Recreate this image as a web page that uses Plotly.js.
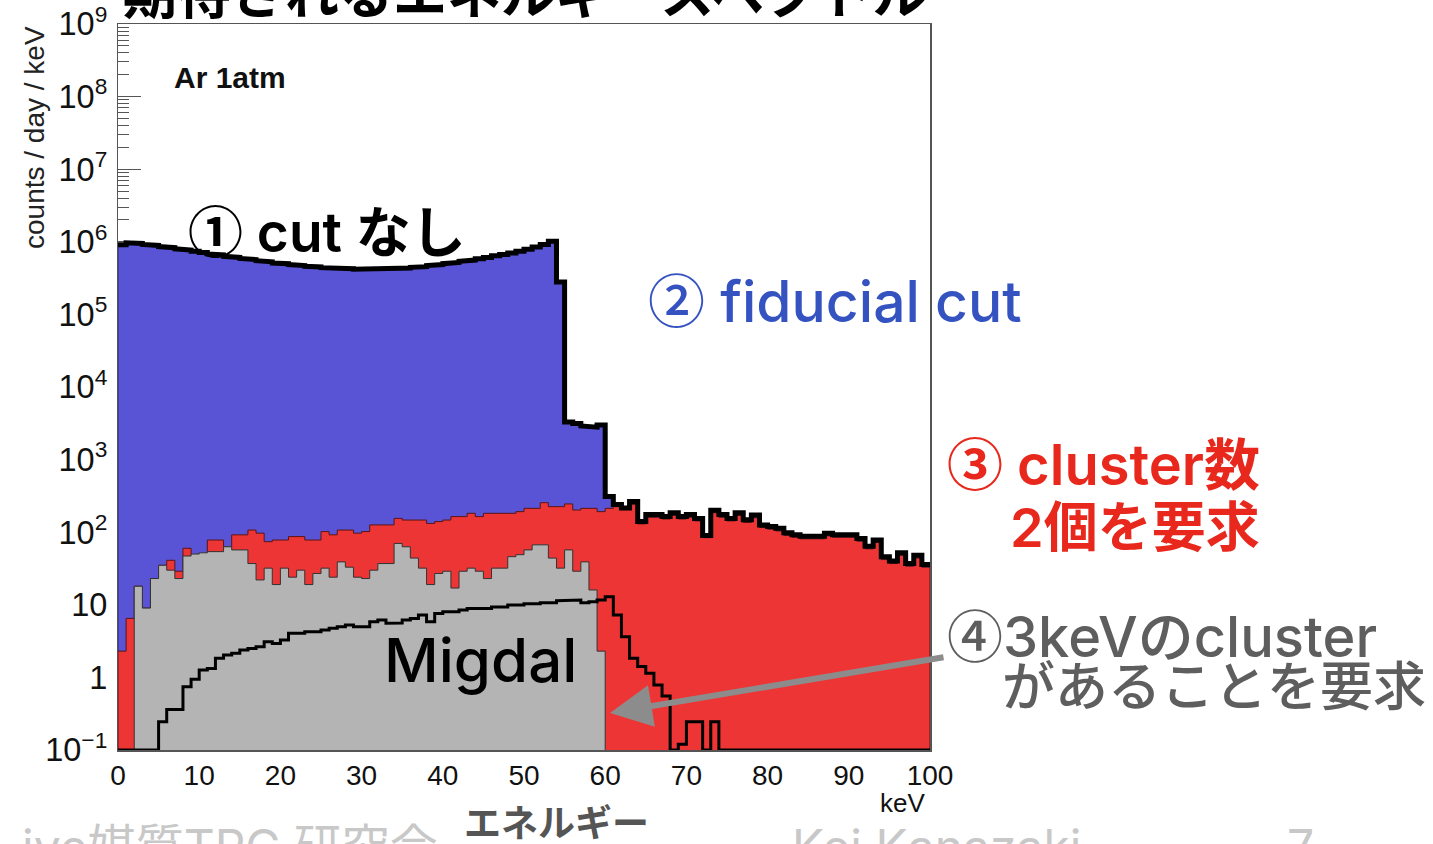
<!DOCTYPE html>
<html><head><meta charset="utf-8">
<script src="https://cdn.plot.ly/plotly-3.0.1.min.js"></script>
<style>html,body{margin:0;padding:0;background:#fff;} #chart{width:1433px;height:844px;}</style>
</head><body><div id="chart"></div>
<script>
// 1 keV bins from 0 to 100 keV
const binWidth = 1;
const nBins = 100;

// ① no cut (black thick outline)
const noCut = [
 9.1e5, 9.7e5, 9.5e5, 9.2e5, 8.9e5, 8.6e5, 8.3e5, 8.0e5, 7.7e5, 7.4e5,
 7.1e5, 6.8e5, 6.6e5, 6.3e5, 6.1e5, 5.9e5, 5.7e5, 5.5e5, 5.3e5, 5.1e5,
 5.0e5, 4.85e5, 4.7e5, 4.6e5, 4.5e5, 4.4e5, 4.35e5, 4.3e5, 4.25e5, 4.2e5,
 4.2e5, 4.2e5, 4.2e5, 4.25e5, 4.3e5, 4.35e5, 4.45e5, 4.55e5, 4.7e5, 4.85e5,
 5.0e5, 5.2e5, 5.4e5, 5.6e5, 5.85e5, 6.1e5, 6.4e5, 6.7e5, 7.0e5, 7.4e5,
 7.9e5, 8.5e5, 9.2e5, 1.02e6, 2.8e5, 3.3e3, 3.15e3, 2.9e3, 2.8e3, 3.0e3,
 310, 240, 215, 265, 140, 175, 175, 165, 185, 165,
 175, 155, 90, 200, 175, 155, 185, 148, 172, 126,
 120, 113, 98, 92, 88, 88, 88, 97, 92, 92,
 92, 82, 64, 78, 46, 40, 52, 37, 48, 36
];

// ② fiducial cut (blue)
const fiducial = [
 9.0e5, 9.6e5, 9.4e5, 9.1e5, 8.8e5, 8.5e5, 8.2e5, 7.9e5, 7.6e5, 7.3e5,
 7.0e5, 6.7e5, 6.5e5, 6.2e5, 6.0e5, 5.8e5, 5.6e5, 5.4e5, 5.2e5, 5.0e5,
 4.9e5, 4.8e5, 4.65e5, 4.55e5, 4.45e5, 4.35e5, 4.3e5, 4.25e5, 4.2e5, 4.15e5,
 4.15e5, 4.15e5, 4.15e5, 4.2e5, 4.25e5, 4.3e5, 4.4e5, 4.5e5, 4.65e5, 4.8e5,
 4.95e5, 5.15e5, 5.35e5, 5.55e5, 5.8e5, 6.0e5, 6.3e5, 6.6e5, 6.9e5, 7.3e5,
 7.8e5, 8.4e5, 9.1e5, 1.0e6, 2.7e5, 3.2e3, 3.1e3, 2.85e3, 2.75e3, 2.95e3,
 300, 232, 210, 255, 136, 170, 170, 160, 180, 160,
 170, 150, 88, 195, 170, 150, 180, 144, 167, 122,
 116, 110, 95, 89, 85, 85, 85, 94, 89, 89,
 89, 79, 62, 75, 44, 38, 50, 36, 46, 34
];

// ③ two clusters required (red)
const twoClusters = [
 2.3, 6.5, 18, 9, 23, 35, 41, 29, 60, 49,
 49, 78, 78, 63, 92, 92, 107, 97, 74, 78,
 78, 87, 87, 78, 78, 102, 92, 107, 107, 97,
 102, 126, 126, 126, 155, 147, 147, 147, 132, 140,
 147, 164, 164, 182, 164, 182, 182, 182, 182, 192,
 213, 213, 255, 225, 225, 245, 202, 213, 213, 192,
 213, 225, 205, 240, 130, 160, 160, 152, 170, 152,
 160, 143, 84, 185, 160, 143, 170, 136, 158, 116,
 110, 104, 90, 85, 81, 81, 81, 89, 85, 85,
 85, 75, 59, 72, 42, 37, 48, 34, 44, 33
];

// ④ 3 keV cluster required (gray)
const threeKeVCluster = [
 0, 0, 18, 9, 23, 35, 30, 23, 47, 50,
 52, 54, 54, 63, 57, 57, 37, 22, 32, 19,
 32, 24, 30, 19, 27, 32, 24, 39, 33, 24,
 23, 30, 37, 37, 70, 63, 44, 32, 19, 27,
 29, 17, 29, 32, 29, 23, 32, 32, 46, 49,
 57, 67, 67, 44, 32, 57, 29, 39, 16, 2.3,
 0, 0, 0, 0, 0, 0, 0, 0, 0, 0,
 0, 0, 0, 0, 0, 0, 0, 0, 0, 0,
 0, 0, 0, 0, 0, 0, 0, 0, 0, 0,
 0, 0, 0, 0, 0, 0, 0, 0, 0, 0
];

// Migdal signal (black line)
const migdal = [
 0, 0, 0, 0, 0, 0.245, 0.36, 0.36, 0.745, 0.94,
 1.26, 1.33, 1.83, 2.04, 2.15, 2.38, 2.51, 2.65, 3.1, 2.94,
 3.27, 4.05, 4.05, 4.26, 4.26, 4.5, 4.74, 4.99, 5.27, 4.99,
 4.99, 5.85, 6.17, 5.56, 5.6, 6.17, 6.5, 7.24, 5.85, 7.6,
 8.0, 8.0, 8.5, 8.9, 8.9, 8.9, 9.3, 9.3, 9.9, 9.9,
 10.3, 10.3, 10.7, 10.7, 11.4, 11.6, 11.6, 10.7, 11.0, 11.6,
 12.9, 7.24, 3.64, 1.83, 1.41, 1.14, 0.785, 0.555, 0, 0.12,
 0.245, 0.245, 0, 0.245, 0, 0, 0, 0, 0, 0,
 0, 0, 0, 0, 0, 0, 0, 0, 0, 0,
 0, 0, 0, 0, 0, 0, 0, 0, 0, 0
];

const xTickVals = [0, 10, 20, 30, 40, 50, 60, 70, 80, 90, 100];

const edges = [];
for (let i = 0; i <= nBins; i++) edges.push(i * binWidth);

const AXIS_MIN = 0.1;
const FILL_FLOOR = 1e-3;

function stepPath(vals, floor, closed) {
  const xs = [], ys = [];
  if (closed) { xs.push(edges[0]); ys.push(floor); }
  vals.forEach((v, i) => {
    const y = Math.max(v, floor);
    xs.push(edges[i], edges[i + 1]);
    ys.push(y, y);
  });
  if (closed) { xs.push(edges[vals.length]); ys.push(floor); }
  return { xs, ys };
}

function fillTrace(vals, fillcolor, linecolor) {
  const p = stepPath(vals, FILL_FLOOR, true);
  return { type: 'scatter', mode: 'lines', x: p.xs, y: p.ys, fill: 'toself',
    fillcolor: fillcolor, line: { color: linecolor, width: 1 }, hoverinfo: 'skip', showlegend: false };
}
function lineTrace(vals, color, width) {
  const p = stepPath(vals, AXIS_MIN, false);
  return { type: 'scatter', mode: 'lines', x: p.xs, y: p.ys,
    line: { color: color, width: width }, hoverinfo: 'skip', showlegend: false };
}

const traces = [
  fillTrace(fiducial, '#5953d6', '#2b2870'),
  fillTrace(twoClusters, '#ee3535', '#5a1515'),
  fillTrace(threeKeVCluster, '#b4b4b4', '#333333'),
  lineTrace(noCut, '#000000', 5),
  lineTrace(migdal, '#000000', 3)
];

const JP = 'Noto Sans CJK JP';
const MIX = 'Inter, Noto Sans CJK JP';
const SANS = 'Liberation Sans';
function circ(ch) { return '<span style="font-family:Noto Sans CJK JP">' + ch + '</span>'; }
function px2x(px) { return (px - 118) / 812; }
function py2y(py) { return (750 - py) / 726; }

function txt(text, px, py, font, opts) {
  return Object.assign({ text: text, xref: 'paper', yref: 'paper', x: px2x(px), y: py2y(py),
    xanchor: 'center', yanchor: 'middle', showarrow: false, font: font }, opts || {});
}

const annotations = [
  txt('期待されるエネルギースペクトル', 525, -10, { family: JP, size: 54, color: '#000', weight: 'bold' }),
  txt('counts / day / keV', 34, 138, { family: SANS, size: 28, color: '#222' }, { textangle: -90 }),
  txt('keV', 902, 803, { family: SANS, size: 26, color: '#111' }),
  txt('エネルギー', 556, 821, { family: JP, size: 37, color: '#555', weight: 'bold' }),
  txt('ive媒質TPC 研究会', 440, 846, { family: MIX, size: 48, color: '#c8c8c8' }, { xanchor: 'right' }),
  txt('Kei Kanazaki', 790, 846, { family: MIX, size: 48, color: '#c8c8c8' }, { xanchor: 'left' }),
  txt('7', 1300, 846, { family: MIX, size: 48, color: '#c8c8c8' }),
  txt('Ar 1atm', 230, 77, { family: SANS, size: 30, color: '#111', weight: 'bold' }),
  txt(circ('①') + ' cut なし', 327, 228, { family: MIX, size: 55, color: '#000', weight: 600 }),
  txt(circ('②') + ' fiducial cut', 835, 297, { family: MIX, size: 57, color: '#3452c0', weight: 500 }),
  txt(circ('③') + ' cluster数', 945, 460, { family: MIX, size: 56, color: '#e8281c', weight: 600 }, { xanchor: 'left' }),
  txt('2個を要求', 1008, 527, { family: MIX, size: 54, color: '#e8281c', weight: 600 }, { xanchor: 'left' }),
  txt(circ('④') + '3keVのcluster', 945, 632, { family: MIX, size: 56, color: '#5e5e5e', weight: 500 }, { xanchor: 'left' }),
  txt('があることを要求', 1000, 687, { family: MIX, size: 53, color: '#5e5e5e', weight: 500 }, { xanchor: 'left' }),
  txt('Migdal', 480, 660, { family: MIX, size: 60, color: '#000', weight: 500 }),
  { text: '', xref: 'paper', yref: 'paper', x: px2x(610), y: py2y(713), axref: 'pixel', ayref: 'pixel',
    ax: 335, ay: -56, showarrow: true, arrowcolor: '#8c8c8c', arrowwidth: 6, arrowhead: 2, arrowsize: 1.4, standoff: 0 }
];

const layout = {
  width: 1433, height: 844,
  margin: { l: 118, r: 503, t: 24, b: 94, pad: 0 },
  paper_bgcolor: '#fff', plot_bgcolor: '#fff',
  showlegend: false,
  xaxis: {
    range: [0, 100], tickmode: 'array', tickvals: xTickVals,
    ticks: 'inside', ticklen: 20, tickwidth: 1.2, tickcolor: '#555',
    showline: true, mirror: true, linecolor: '#555', linewidth: 1.5,
    showgrid: false, zeroline: false, layer: 'below traces',
    tickfont: { family: SANS, size: 28, color: '#111' }, ticklabelstandoff: 0
  },
  yaxis: {
    type: 'log', range: [-1, 9], tick0: 0, dtick: 1, exponentformat: 'power',
    ticks: 'inside', ticklen: 23, tickwidth: 1.2, tickcolor: '#555',
    minor: { dtick: 'D1', ticks: 'inside', ticklen: 11, tickwidth: 1, tickcolor: '#555', showgrid: false },
    showline: true, mirror: true, linecolor: '#555', linewidth: 1.5,
    showgrid: false, zeroline: false, layer: 'below traces',
    tickfont: { family: SANS, size: 26, color: '#111' }, ticklabelstandoff: 4
  },
  annotations: annotations
};

Plotly.newPlot('chart', traces, layout, { displayModeBar: false, staticPlot: true });
</script>
</body></html>
